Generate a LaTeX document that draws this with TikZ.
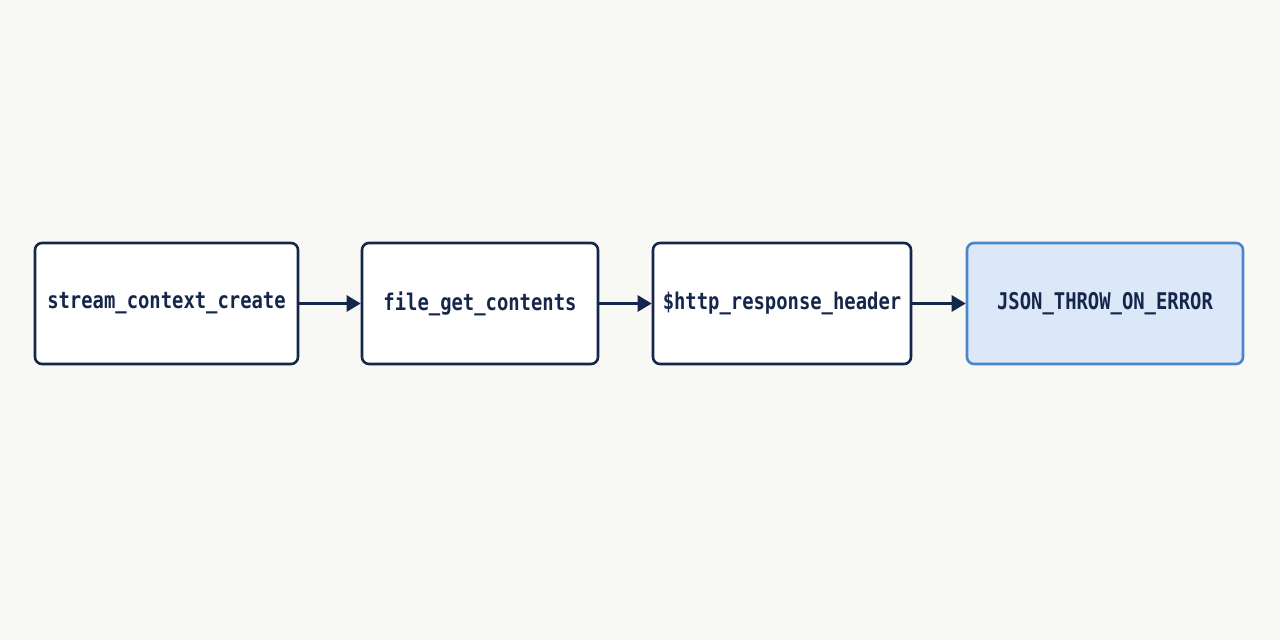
\documentclass[tikz,border=0pt]{standalone}
\usepackage{fontspec}
\setmainfont{DejaVu Sans Mono}[FakeStretch=0.82]
\usetikzlibrary{arrows.meta}
\definecolor{bg}{HTML}{F8F8F4}
\definecolor{navy}{HTML}{14264A}
\definecolor{lblue}{HTML}{DCE8F8}
\definecolor{mblue}{HTML}{4A86D0}
\begin{document}
\begin{tikzpicture}[x=1pt,y=-1pt,
  box/.style={draw=navy,line width=2.6pt,rounded corners=7pt,fill=white,inner sep=0pt,text=navy,font=\fontsize{23}{26}\selectfont\bfseries},
  arr/.style={draw=navy,line width=2.8pt,-{Triangle[length=14pt,width=16pt]}}]
\fill[bg] (0,0) rectangle (1280,640);
\useasboundingbox (0,0) rectangle (1280,640);
\node[box,minimum width=263pt,minimum height=121pt] (a) at (166.5,303.5) {stream\_context\_create};
\node[box,minimum width=236pt,minimum height=121pt] (b) at (480,303.5) {file\_get\_contents};
\node[box,minimum width=258pt,minimum height=121pt] (c) at (782,303.5) {\$http\_response\_header};
\node[box,minimum width=276pt,minimum height=121pt,draw=mblue,fill=lblue] (d) at (1105,303.5) {JSON\_THROW\_ON\_ERROR};
\draw[arr] (a) -- (b);
\draw[arr] (b) -- (c);
\draw[arr] (c) -- (d);
\end{tikzpicture}
\end{document}
